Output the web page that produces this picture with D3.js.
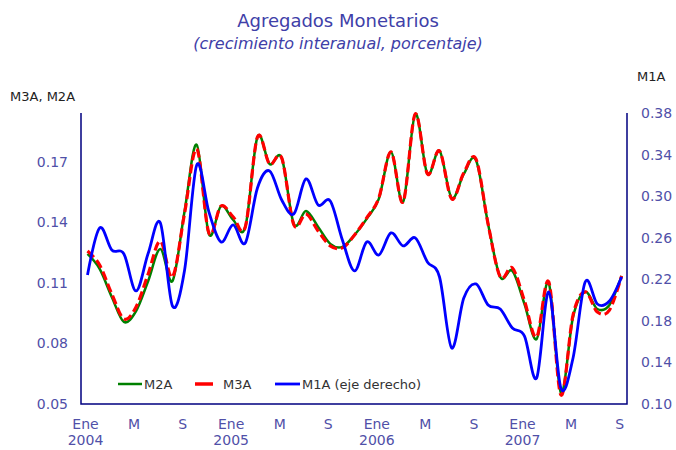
<!DOCTYPE html>
<html>
<head>
<meta charset="utf-8">
<script src="https://cdn.jsdelivr.net/npm/d3@7"></script>
<style>
  body { margin: 0; background: #fff; }
  text { font-family: "DejaVu Sans", Verdana, sans-serif; }
</style>
</head>
<body>
<div id="chart"></div>
<script>
// monthly data, Ene 2004 .. Sep 2007
const m2a = [0.1244, 0.1170, 0.1031, 0.0907, 0.0961, 0.1110, 0.1269, 0.1110, 0.1457, 0.1785,
             0.1343, 0.1482, 0.1413, 0.1378, 0.1824, 0.1690, 0.1720, 0.1393, 0.1457, 0.1378,
             0.1294, 0.1279, 0.1338, 0.1418, 0.1517, 0.1750, 0.1502, 0.1938, 0.1641, 0.1755,
             0.1522, 0.1641, 0.1710, 0.1393, 0.1130, 0.1160, 0.0996, 0.0822, 0.1100, 0.0555,
             0.0932, 0.1056, 0.0971, 0.0991, 0.1135];
const m3a = [0.1259, 0.1189, 0.1046, 0.0922, 0.0981, 0.1145, 0.1308, 0.1130, 0.1447, 0.1765,
             0.1348, 0.1482, 0.1428, 0.1378, 0.1824, 0.1690, 0.1720, 0.1388, 0.1442, 0.1358,
             0.1284, 0.1274, 0.1338, 0.1423, 0.1522, 0.1750, 0.1502, 0.1938, 0.1641, 0.1755,
             0.1517, 0.1646, 0.1715, 0.1393, 0.1130, 0.1175, 0.1011, 0.0832, 0.1105, 0.0545,
             0.0941, 0.1056, 0.0956, 0.0966, 0.1135];
const m1a = [0.2242, 0.2694, 0.2482, 0.2444, 0.2088, 0.2450, 0.2742, 0.1943, 0.2290, 0.3300,
             0.2848, 0.2559, 0.2723, 0.2550, 0.3079, 0.3243, 0.2963, 0.2829, 0.3166, 0.2915,
             0.2954, 0.2578, 0.2280, 0.2559, 0.2434, 0.2646, 0.2521, 0.2598, 0.2367, 0.2222,
             0.1539, 0.2020, 0.2155, 0.1953, 0.1914, 0.1731, 0.1654, 0.1250, 0.2078, 0.1154,
             0.1443, 0.2174, 0.1962, 0.1991, 0.2222];

const monthTickLabels = ["Ene", "M", "S"];
const yearLabels = ["2004", "2005", "2006", "2007"];
const leftTicks = [0.05, 0.08, 0.11, 0.14, 0.17];
const rightTicks = [0.10, 0.14, 0.18, 0.22, 0.26, 0.30, 0.34, 0.38];

const width = 676, height = 450;
const plot = { left: 81, right: 627, top: 113, bottom: 404 };

const svg = d3.select("#chart")
    .append("svg")
    .attr("width", width)
    .attr("height", height);

// scales
const x = d3.scaleLinear()
    .domain([0, m2a.length - 1])
    .range([87.5, 621.6]);
const yLeft = d3.scaleLinear()
    .domain([0.05, 0.05 + 291 / 60.5 * 0.03])
    .range([plot.bottom, plot.top]);
const yRight = d3.scaleLinear()
    .domain([0.10, 0.38])
    .range([plot.bottom, plot.top]);

const axisColor = "#000080";
const labelColor = "#5050a8";

// titles
svg.append("text")
    .attr("x", 338).attr("y", 27)
    .attr("text-anchor", "middle")
    .style("font-size", "18px")
    .style("fill", "#4040a8")
    .text("Agregados Monetarios");
svg.append("text")
    .attr("x", 338).attr("y", 49)
    .attr("text-anchor", "middle")
    .style("font-size", "16px")
    .style("font-style", "italic")
    .style("fill", "#4040a8")
    .text("(crecimiento interanual, porcentaje)");

svg.append("text")
    .attr("x", 10).attr("y", 101)
    .style("font-size", "13px")
    .style("fill", "#222")
    .text("M3A, M2A");
svg.append("text")
    .attr("x", 637).attr("y", 81)
    .style("font-size", "13px")
    .style("fill", "#222")
    .text("M1A");

// axes
const leftAxis = d3.axisLeft(yLeft)
    .tickValues(leftTicks)
    .tickFormat(d3.format(".2f"))
    .tickSize(0)
    .tickPadding(13);
const rightAxis = d3.axisRight(yRight)
    .tickValues(rightTicks)
    .tickFormat(d3.format(".2f"))
    .tickSize(0)
    .tickPadding(14);

const gl = svg.append("g")
    .attr("transform", "translate(" + plot.left + ",0)")
    .call(leftAxis);
const gr = svg.append("g")
    .attr("transform", "translate(" + plot.right + ",0)")
    .call(rightAxis);
[gl, gr].forEach(g => {
    g.select(".domain").remove();
    g.selectAll("text")
        .style("font-size", "14px")
        .style("fill", labelColor)
        .style("font-family", "'DejaVu Sans', Verdana, sans-serif");
});

// frame: left, bottom, right
svg.append("path")
    .attr("d", "M" + plot.left + "," + plot.top + "V" + plot.bottom + "H" + plot.right + "V" + plot.top)
    .attr("fill", "none")
    .attr("stroke", axisColor)
    .attr("stroke-width", 1.5);

// x labels
const xTicks = d3.range(0, m2a.length, 4);
const xg = svg.append("g");
xg.selectAll("text.month")
    .data(xTicks)
    .join("text")
    .classed("month", true)
    .attr("x", d => x(d) - 2)
    .attr("y", 429)
    .attr("text-anchor", "middle")
    .style("font-size", "14px")
    .style("fill", labelColor)
    .text((d, i) => monthTickLabels[i % 3]);
xg.selectAll("text.year")
    .data(yearLabels)
    .join("text")
    .classed("year", true)
    .attr("x", (d, i) => x(i * 12) - 2)
    .attr("y", 445)
    .attr("text-anchor", "middle")
    .style("font-size", "14px")
    .style("fill", labelColor)
    .text(d => d);

// lines
const curve = d3.curveCardinal.tension(0);
const lineLeft = d3.line()
    .x((d, i) => x(i))
    .y(d => yLeft(d))
    .curve(curve);
const lineRight = d3.line()
    .x((d, i) => x(i))
    .y(d => yRight(d))
    .curve(curve);

svg.append("path")
    .datum(m2a)
    .attr("d", lineLeft)
    .attr("fill", "none")
    .attr("stroke", "#008000")
    .attr("stroke-width", 2.5);
svg.append("path")
    .datum(m3a)
    .attr("d", lineLeft)
    .attr("fill", "none")
    .attr("stroke", "#ff0000")
    .attr("stroke-width", 3.2)
    .attr("stroke-dasharray", "9,4");
svg.append("path")
    .datum(m1a)
    .attr("d", lineRight)
    .attr("fill", "none")
    .attr("stroke", "#0000ff")
    .attr("stroke-width", 2.8);

// legend
const legendItems = [
    { label: "M2A", color: "#008000", x0: 118, x1: 142, tx: 144, w: 2.5 },
    { label: "M3A", color: "#ff0000", x0: 195, x1: 213, tx: 223, w: 3.5 },
    { label: "M1A (eje derecho)", color: "#0000ff", x0: 275, x1: 300, tx: 302, w: 2.8 }
];
const lg = svg.append("g");
legendItems.forEach(it => {
    lg.append("line")
        .attr("x1", it.x0).attr("x2", it.x1)
        .attr("y1", 384).attr("y2", 384)
        .attr("stroke", it.color)
        .attr("stroke-width", it.w);
    lg.append("text")
        .attr("x", it.tx).attr("y", 389)
        .style("font-size", "13px")
        .style("fill", "#333")
        .text(it.label);
});
</script>
</body>
</html>
